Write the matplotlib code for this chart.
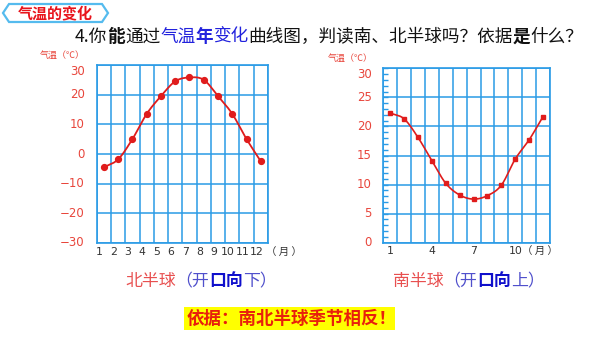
import numpy as np
import matplotlib
matplotlib.use("Agg")
import matplotlib.pyplot as plt
from matplotlib.patches import Polygon, Rectangle

plt.rcParams['font.family'] = ['Noto Sans CJK SC', 'DejaVu Sans']

# ---- data ----
months = list(range(1, 13))
north_temp = [-4.5, -1.8, 5.0, 13.5, 19.5, 24.5, 25.8, 25.0, 19.5, 13.5, 5.0, -2.5]
south_temp = [22.3, 21.3, 18.1, 14.1, 10.2, 8.2, 7.5, 8.1, 9.9, 14.4, 17.7, 21.7]

north_xlabels = [str(m) for m in months]
south_xticks = [1, 4, 7, 10]
north_yticks = [30, 20, 10, 0, -10, -20, -30]
south_yticks = [30, 25, 20, 15, 10, 5, 0]

W, H = 600, 338
GRID_BLUE = '#2a9be6'
TICK_RED = '#e8463c'
CURVE_RED = '#e01c1c'
DARK = '#333333'

fig = plt.figure(figsize=(W / 100, H / 100), dpi=100)
fig.patch.set_facecolor('white')


def px_axes(left, top, right, bottom):
    return fig.add_axes([left / W, 1 - bottom / H, (right - left) / W, (bottom - top) / H])


def smooth(x, y, n=20):
    """Catmull-Rom curve through the given points."""
    x = np.asarray(x, float)
    y = np.asarray(y, float)
    px = np.concatenate([[2 * x[0] - x[1]], x, [2 * x[-1] - x[-2]]])
    py = np.concatenate([[2 * y[0] - y[1]], y, [2 * y[-1] - y[-2]]])
    xs, ys = [], []
    t = np.linspace(0, 1, n, endpoint=False)
    for i in range(1, len(px) - 2):
        for arr, out in ((px, xs), (py, ys)):
            p0, p1, p2, p3 = arr[i - 1], arr[i], arr[i + 1], arr[i + 2]
            out.extend(0.5 * ((2 * p1) + (-p0 + p2) * t +
                              (2 * p0 - 5 * p1 + 4 * p2 - p3) * t ** 2 +
                              (-p0 + 3 * p1 - 3 * p2 + p3) * t ** 3))
    xs.append(x[-1])
    ys.append(y[-1])
    return np.array(xs), np.array(ys)


def style_grid(ax, ylim, ystep):
    ax.set_xlim(0.5, 12.5)
    ax.set_ylim(*ylim)
    ax.set_xticks(np.arange(0.5, 13, 1), minor=True)
    ax.set_xticks([])
    ax.set_yticks(np.arange(ylim[0], ylim[1] + 0.1, ystep))
    ax.grid(which='minor', axis='x', color=GRID_BLUE, lw=1.1)
    ax.grid(which='major', axis='y', color=GRID_BLUE, lw=1.1)
    ax.tick_params(which='both', length=0, labelleft=False, labelbottom=False)
    for s in ax.spines.values():
        s.set_color(GRID_BLUE)
        s.set_linewidth(1.2)
    ax.set_axisbelow(True)


def ylabels(ax, values, text_of):
    top = max(values)
    for v in values:
        ax.text(-0.07, v, text_of(v), transform=ax.get_yaxis_transform(), ha='right',
                va='top' if v == top else 'center', color=TICK_RED, fontsize=8.5,
                family='DejaVu Sans')


# ---- northern hemisphere ----
axn = px_axes(96.7, 65, 268, 243)
style_grid(axn, (-30, 30), 10)
sx, sy = smooth(months, north_temp)
axn.plot(sx, sy, color=CURVE_RED, lw=1.3, zorder=3)
axn.plot(months, north_temp, 'o', color=CURVE_RED, ms=4.2, zorder=4)
ylabels(axn, north_yticks, lambda v: ('−' + str(abs(v))) if v < 0 else str(v))
for m, lab in zip(months, north_xlabels):
    axn.text(m - 0.31, -0.05, lab, transform=axn.get_xaxis_transform(), ha='center', va='center',
             color=DARK, fontsize=7.8, family='DejaVu Sans')
fig.text(266 / W, 1 - 252 / H, '（ 月 ）', ha='left', va='center', color=DARK, fontsize=7.5)
fig.text(40 / W, 1 - 55 / H, '气温（℃）', ha='left', va='center', color=TICK_RED, fontsize=6.5)

# ---- southern hemisphere ----
axs = px_axes(383.3, 68.3, 550, 242.7)
style_grid(axs, (0, 30), 5)
for v in range(0, 31):
    axs.plot([0.5, 0.82], [v, v], color=GRID_BLUE, lw=1.0, zorder=2, solid_capstyle='butt')
sx, sy = smooth(months, south_temp)
axs.plot(sx, sy, color=CURVE_RED, lw=1.2, zorder=3)
axs.plot(months, south_temp, 's', color=CURVE_RED, ms=2.4, zorder=4)
ylabels(axs, south_yticks, str)
for m in south_xticks:
    axs.text(m, -0.05, str(m), transform=axs.get_xaxis_transform(),
             ha='center', va='center', color=DARK, fontsize=7.8, family='DejaVu Sans')
fig.text(522 / W, 1 - 251 / H, '（ 月 ）', ha='left', va='center', color=DARK, fontsize=7.5)
fig.text(328 / W, 1 - 58 / H, '气温（℃）', ha='left', va='center', color=TICK_RED, fontsize=6.5)

# ---- header tag ----
tag = Polygon([(3 / W, 1 - 13 / H), (9 / W, 1 - 4 / H), (102 / W, 1 - 4 / H), (108 / W, 1 - 13 / H),
               (102 / W, 1 - 22 / H), (9 / W, 1 - 22 / H)], closed=True, transform=fig.transFigure,
              facecolor='white', edgecolor='#55bbee', lw=1.6)
fig.patches.append(tag)
fig.text(55 / W, 1 - 13 / H, '气温的变化', ha='center', va='center', color='#e8141c',
         fontsize=10.8, fontweight='bold')

renderer = fig.canvas.get_renderer()


def rich(x_px, y_px, segments, size):
    x = x_px
    for s, color, weight in segments:
        t = fig.text(x / W, 1 - y_px / H, s, ha='left', va='center', color=color,
                     fontsize=size, fontweight=weight)
        x += t.get_window_extent(renderer).width


BLACK = '#111111'
BLUE = '#2222dd'
rich(75, 37, [('4.你', BLACK, 'normal'), ('能', BLACK, 'bold'), ('通过', BLACK, 'normal'),
              ('气温', BLUE, 'normal'), ('年', BLUE, 'bold'), ('变化', BLUE, 'normal'),
              ('曲线图，判读南、北半球吗？依据', BLACK, 'normal'), ('是', BLACK, 'bold'),
              ('什么？', BLACK, 'normal')], 12.7)

CAP_RED = '#e85050'
CAP_BLUE = '#5050cc'
CAP_BLUE_B = '#1010cc'
rich(125, 281, [('北半球', CAP_RED, 'normal'), ('（开', CAP_BLUE, 'normal'),
                ('口向', CAP_BLUE_B, 'bold'), ('下）', CAP_BLUE, 'normal')], 12.2)
rich(393, 281, [('南半球', CAP_RED, 'normal'), ('（开', CAP_BLUE, 'normal'),
                ('口向', CAP_BLUE_B, 'bold'), ('上）', CAP_BLUE, 'normal')], 12.2)

# ---- conclusion box ----
fig.patches.append(Rectangle((184 / W, 1 - 330 / H), (395 - 184) / W, (330 - 306.7) / H,
                             transform=fig.transFigure, facecolor='#ffff00', edgecolor='none'))
fig.text(187 / W, 1 - 318.5 / H, '依据：南北半球季节相反！', ha='left', va='center',
         color='#e8200c', fontsize=12.6, fontweight='bold')

fig.savefig('out.png', dpi=100)
